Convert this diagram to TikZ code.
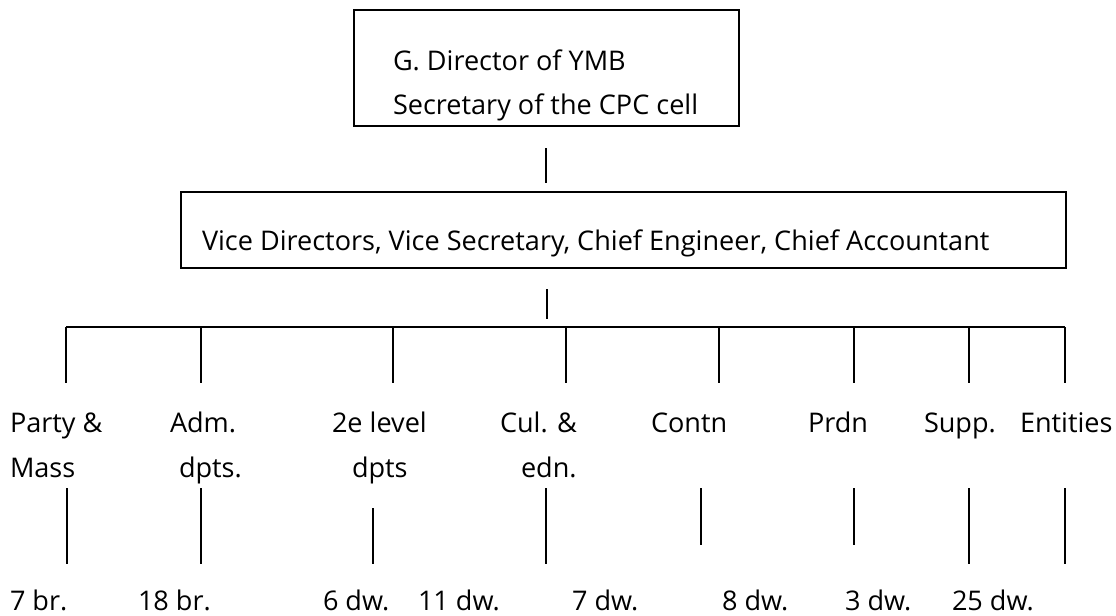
\documentclass[tikz,border=0pt]{standalone}
\usepackage{fontspec}
\setmainfont{Open Sans}
\begin{document}
\begin{tikzpicture}[x=0.75pt,y=-0.75pt,
  every node/.style={font=\fontsize{20.3}{24}\selectfont},
  boxnode/.style={draw, line width=1.1pt, minimum width=#1, inner sep=0pt},
  txt/.style={anchor=base west, inner sep=0pt, outer sep=0pt},
  conn/.style={line width=1.4pt}]
\useasboundingbox (0,0) rectangle (1116,615);
% boxes
\node[boxnode=288.75pt, minimum height=87pt] (box1) at (546.5,68) {};
\node[boxnode=663.75pt, minimum height=57pt] (box2) at (623.5,230) {};
\node[txt] (t1a) at (393,70) {G. Director of YMB};
\node[txt] (t1b) at (393,114) {Secretary of the CPC cell};
\node[txt] (t2) at (202,250) {Vice Directors, Vice Secretary, Chief Engineer, Chief Accountant};
% connectors between boxes
\coordinate (l1a) at (546,148); \coordinate (l1b) at (546,183);
\draw[conn] (l1a) -- (l1b);
\coordinate (l2a) at (547,289); \coordinate (l2b) at (547,319);
\draw[conn] (l2a) -- (l2b);
% bar and drops
\coordinate (bL) at (66,327); \coordinate (bR) at (1065,327);
\draw[conn] (bL) -- (bR);
\foreach \x/\n in {66/a,201/b,393/c,566/d,719/e,854/f,969/g,1065/h}{
  \coordinate (d\n) at (\x,327); \coordinate (e\n) at (\x,383);
  \draw[conn] (d\n) -- (e\n);
}
% unit labels
\node[txt] (pa1) at (10,432) {Party \&};
\node[txt] (pa2) at (10,477) {Mass};
\node[txt] (ad1) at (170,432) {Adm.};
\node[txt] (ad2) at (179,477) {dpts.};
\node[txt] (se1) at (332,432) {2e level};
\node[txt] (se2) at (352,477) {dpts};
\node[txt] (cu1) at (500,432) {Cul. \&};
\node[txt] (cu2) at (521,477) {edn.};
\node[txt] (co1) at (651,432) {Contn};
\node[txt] (pr1) at (808,432) {Prdn};
\node[txt] (su1) at (924,432) {Supp.};
\node[txt] (en1) at (1020,432) {Entities};
% lower lines
\foreach \x/\t/\b/\n in {67/488/564/a,201/488/564/b,373/508/564/c,546/488/564/d,701/488/545/e,854/488/545/f,969/488/564/g,1065/488/564/h}{
  \coordinate (u\n) at (\x,\t); \coordinate (v\n) at (\x,\b);
  \draw[conn] (u\n) -- (v\n);
}
% counts
\node[txt] (n1) at (10,610) {7 br.};
\node[txt] (n2) at (138,610) {18 br.};
\node[txt] (n3) at (323,610) {6 dw.};
\node[txt] (n4) at (418,610) {11 dw.};
\node[txt] (n5) at (572,610) {7 dw.};
\node[txt] (n6) at (722,610) {8 dw.};
\node[txt] (n7) at (845,610) {3 dw.};
\node[txt] (n8) at (952,610) {25 dw.};
\end{tikzpicture}
\end{document}
